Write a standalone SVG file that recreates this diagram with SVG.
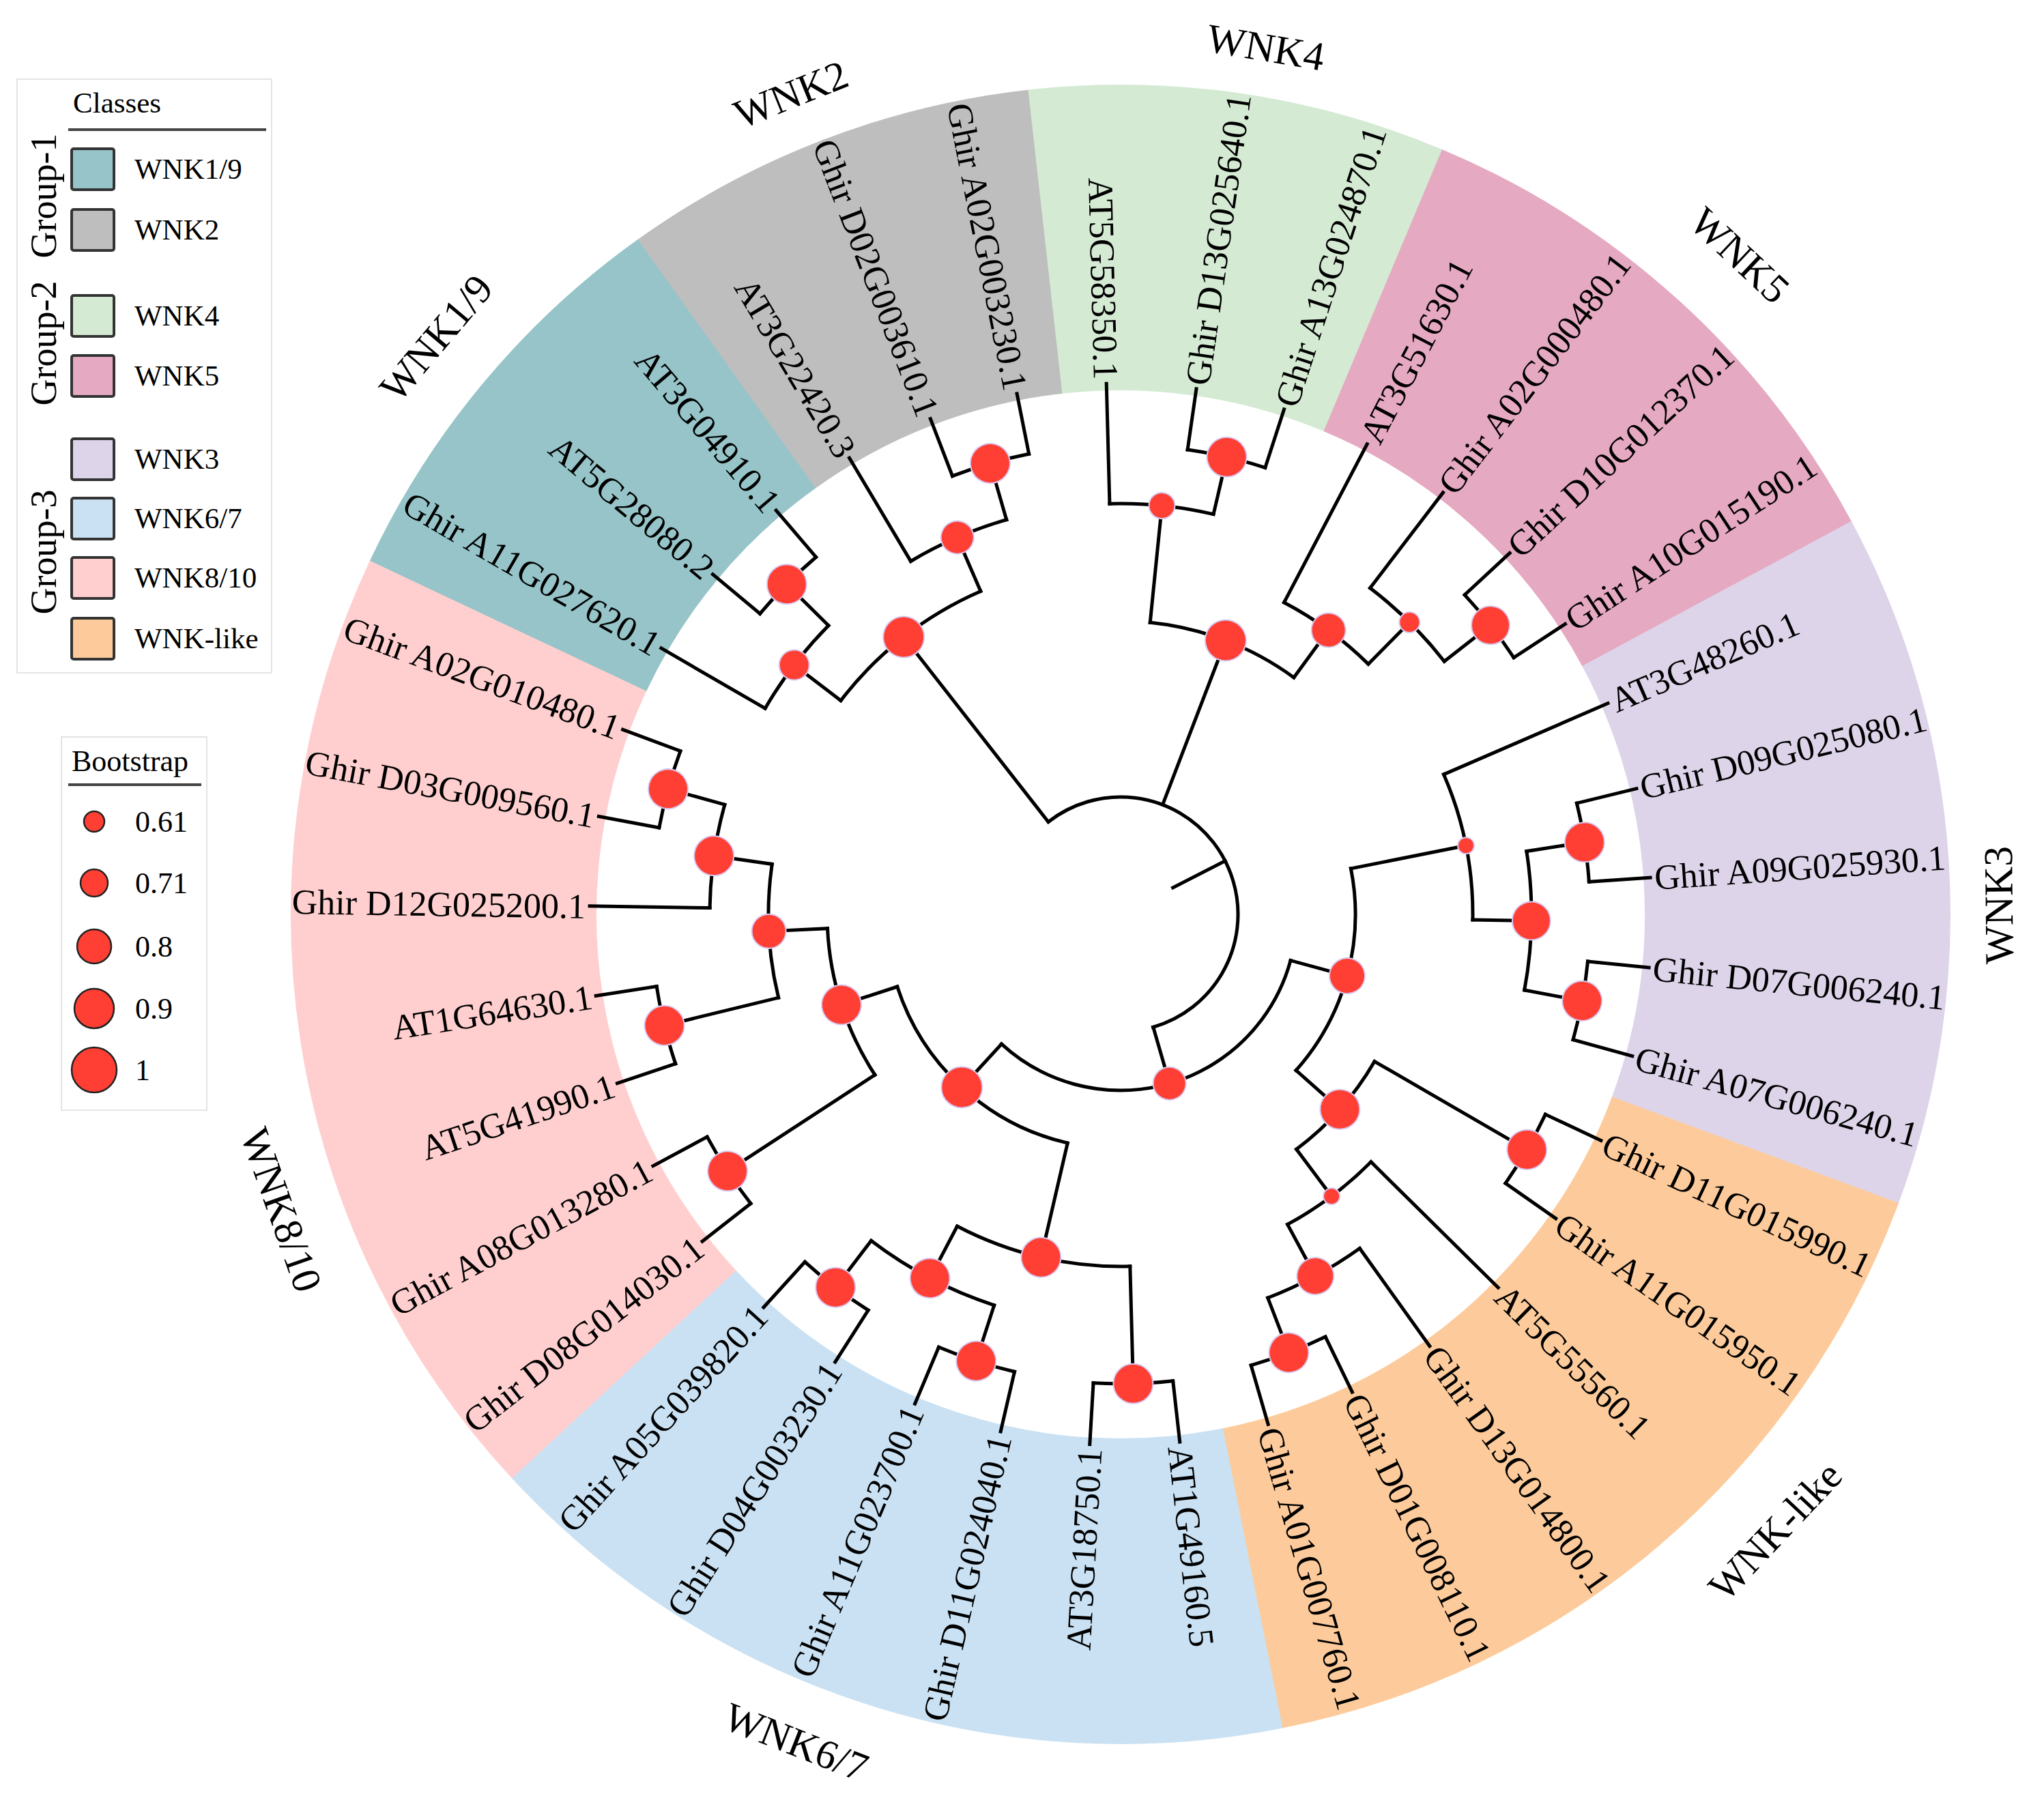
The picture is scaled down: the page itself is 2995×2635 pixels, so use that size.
<svg xmlns="http://www.w3.org/2000/svg" width="2995" height="2635" viewBox="0 0 2995 2635">
<style>
.br{stroke:#000;stroke-width:5;fill:none;stroke-linecap:square}
.nd{fill:#FF3F33;stroke:#d6c9f2;stroke-width:2}
.lf{font-family:"Liberation Serif","Times New Roman",serif;font-size:52px;fill:#000}
.le{text-anchor:end}
.cl{font-family:"Liberation Serif","Times New Roman",serif;font-size:60px;text-anchor:middle;fill:#000}
.lg{font-family:"Liberation Serif","Times New Roman",serif;font-size:43px;fill:#000}
.sec{fill:none;stroke-width:448}
.sw{stroke:#333;stroke-width:4}
.bs{fill:#FF3F33;stroke:#222;stroke-width:2.5}
</style>
<rect width="2995" height="2635" fill="#fff"/>
<g id="sectors">
<circle class="sec" cx="1642" cy="1340" r="992" stroke="#FFCFCF" stroke-dasharray="1180.2 99999" transform="rotate(137.115 1642 1340)"/>
<circle class="sec" cx="1642" cy="1340" r="992" stroke="#96C4C8" stroke-dasharray="506.4 99999" transform="rotate(205.224 1642 1340)"/>
<circle class="sec" cx="1642" cy="1340" r="992" stroke="#BEBEBE" stroke-dasharray="506.4 99999" transform="rotate(234.413 1642 1340)"/>
<circle class="sec" cx="1642" cy="1340" r="992" stroke="#D4EAD3" stroke-dasharray="506.4 99999" transform="rotate(263.602 1642 1340)"/>
<circle class="sec" cx="1642" cy="1340" r="992" stroke="#E5A9C1" stroke-dasharray="674.8 99999" transform="rotate(292.791 1642 1340)"/>
<circle class="sec" cx="1642" cy="1340" r="992" stroke="#DDD4EA" stroke-dasharray="843.3 99999" transform="rotate(331.71 1642 1340)"/>
<circle class="sec" cx="1642" cy="1340" r="992" stroke="#FDCB9B" stroke-dasharray="1011.7 99999" transform="rotate(20.359 1642 1340)"/>
<circle class="sec" cx="1642" cy="1340" r="992" stroke="#C9E1F3" stroke-dasharray="1011.7 99999" transform="rotate(78.737 1642 1340)"/>
</g>
<g id="connectors">
<circle class="br" cx="1642" cy="1340" r="172" stroke-dasharray="606.07 99999" transform="rotate(231.98 1642 1340)"/>
<circle class="br" cx="1642" cy="1340" r="258" stroke-dasharray="528.49 99999" transform="rotate(15.19 1642 1340)"/>
<circle class="br" cx="1642" cy="1340" r="344" stroke-dasharray="317.61 99999" transform="rotate(348.74 1642 1340)"/>
<circle class="br" cx="1642" cy="1340" r="344" stroke-dasharray="354.17 99999" transform="rotate(103.06 1642 1340)"/>
<circle class="br" cx="1642" cy="1340" r="430" stroke-dasharray="228.19 99999" transform="rotate(275.77 1642 1340)"/>
<circle class="br" cx="1642" cy="1340" r="430" stroke-dasharray="173.44 99999" transform="rotate(30.085 1642 1340)"/>
<circle class="br" cx="1642" cy="1340" r="430" stroke-dasharray="228.19 99999" transform="rotate(146.845 1642 1340)"/>
<circle class="br" cx="1642" cy="1340" r="516" stroke-dasharray="262.88 99999" transform="rotate(217.39 1642 1340)"/>
<circle class="br" cx="1642" cy="1340" r="516" stroke-dasharray="153.37 99999" transform="rotate(297.66 1642 1340)"/>
<circle class="br" cx="1642" cy="1340" r="516" stroke-dasharray="218.98 99999" transform="rotate(336.58 1642 1340)"/>
<circle class="br" cx="1642" cy="1340" r="516" stroke-dasharray="153.37 99999" transform="rotate(44.68 1642 1340)"/>
<circle class="br" cx="1642" cy="1340" r="516" stroke-dasharray="262.88 99999" transform="rotate(88.465 1642 1340)"/>
<circle class="br" cx="1642" cy="1340" r="516" stroke-dasharray="197.18 99999" transform="rotate(166.305 1642 1340)"/>
<circle class="br" cx="1642" cy="1340" r="602" stroke-dasharray="153.35 99999" transform="rotate(239.28 1642 1340)"/>
<circle class="br" cx="1642" cy="1340" r="602" stroke-dasharray="153.35 99999" transform="rotate(210.09 1642 1340)"/>
<circle class="br" cx="1642" cy="1340" r="602" stroke-dasharray="153.35 99999" transform="rotate(268.47 1642 1340)"/>
<circle class="br" cx="1642" cy="1340" r="602" stroke-dasharray="153.35 99999" transform="rotate(307.39 1642 1340)"/>
<circle class="br" cx="1642" cy="1340" r="602" stroke-dasharray="204.46 99999" transform="rotate(351.165 1642 1340)"/>
<circle class="br" cx="1642" cy="1340" r="602" stroke-dasharray="153.35 99999" transform="rotate(54.41 1642 1340)"/>
<circle class="br" cx="1642" cy="1340" r="602" stroke-dasharray="204.46 99999" transform="rotate(107.925 1642 1340)"/>
<circle class="br" cx="1642" cy="1340" r="602" stroke-dasharray="153.35 99999" transform="rotate(180.9 1642 1340)"/>
<circle class="br" cx="1642" cy="1340" r="688" stroke-dasharray="116.83 99999" transform="rotate(249.01 1642 1340)"/>
<circle class="br" cx="1642" cy="1340" r="688" stroke-dasharray="116.83 99999" transform="rotate(219.82 1642 1340)"/>
<circle class="br" cx="1642" cy="1340" r="688" stroke-dasharray="116.83 99999" transform="rotate(278.2 1642 1340)"/>
<circle class="br" cx="1642" cy="1340" r="688" stroke-dasharray="116.83 99999" transform="rotate(317.12 1642 1340)"/>
<circle class="br" cx="1642" cy="1340" r="688" stroke-dasharray="116.83 99999" transform="rotate(346.3 1642 1340)"/>
<circle class="br" cx="1642" cy="1340" r="688" stroke-dasharray="116.83 99999" transform="rotate(5.76 1642 1340)"/>
<circle class="br" cx="1642" cy="1340" r="688" stroke-dasharray="116.83 99999" transform="rotate(25.22 1642 1340)"/>
<circle class="br" cx="1642" cy="1340" r="688" stroke-dasharray="116.83 99999" transform="rotate(64.14 1642 1340)"/>
<circle class="br" cx="1642" cy="1340" r="688" stroke-dasharray="116.83 99999" transform="rotate(83.6 1642 1340)"/>
<circle class="br" cx="1642" cy="1340" r="688" stroke-dasharray="116.83 99999" transform="rotate(103.06 1642 1340)"/>
<circle class="br" cx="1642" cy="1340" r="688" stroke-dasharray="116.83 99999" transform="rotate(122.52 1642 1340)"/>
<circle class="br" cx="1642" cy="1340" r="688" stroke-dasharray="116.83 99999" transform="rotate(141.98 1642 1340)"/>
<circle class="br" cx="1642" cy="1340" r="688" stroke-dasharray="116.83 99999" transform="rotate(161.44 1642 1340)"/>
<circle class="br" cx="1642" cy="1340" r="688" stroke-dasharray="116.83 99999" transform="rotate(190.63 1642 1340)"/>
<line class="br" x1="1728" y1="1340" x2="1814" y2="1340" transform="rotate(332.925 1642 1340)"/>
<line class="br" x1="1814" y1="1340" x2="2158" y2="1340" transform="rotate(231.98 1642 1340)"/>
<line class="br" x1="1814" y1="1340" x2="2072" y2="1340" transform="rotate(290.97 1642 1340)"/>
<line class="br" x1="1814" y1="1340" x2="1900" y2="1340" transform="rotate(73.87 1642 1340)"/>
<line class="br" x1="1900" y1="1340" x2="1986" y2="1340" transform="rotate(15.19 1642 1340)"/>
<line class="br" x1="1900" y1="1340" x2="1986" y2="1340" transform="rotate(132.555 1642 1340)"/>
<line class="br" x1="1986" y1="1340" x2="2158" y2="1340" transform="rotate(348.74 1642 1340)"/>
<line class="br" x1="1986" y1="1340" x2="2072" y2="1340" transform="rotate(41.64 1642 1340)"/>
<line class="br" x1="2158" y1="1340" x2="2420" y2="1340" transform="rotate(336.58 1642 1340)"/>
<line class="br" x1="2158" y1="1340" x2="2244" y2="1340" transform="rotate(0.895 1642 1340)"/>
<line class="br" x1="2244" y1="1340" x2="2330" y2="1340" transform="rotate(351.165 1642 1340)"/>
<line class="br" x1="2244" y1="1340" x2="2330" y2="1340" transform="rotate(10.625 1642 1340)"/>
<line class="br" x1="2330" y1="1340" x2="2420" y2="1340" transform="rotate(346.3 1642 1340)"/>
<line class="br" x1="2330" y1="1340" x2="2420" y2="1340" transform="rotate(356.03 1642 1340)"/>
<line class="br" x1="2330" y1="1340" x2="2420" y2="1340" transform="rotate(5.76 1642 1340)"/>
<line class="br" x1="2330" y1="1340" x2="2420" y2="1340" transform="rotate(15.49 1642 1340)"/>
<line class="br" x1="2072" y1="1340" x2="2330" y2="1340" transform="rotate(30.085 1642 1340)"/>
<line class="br" x1="2072" y1="1340" x2="2158" y2="1340" transform="rotate(53.195 1642 1340)"/>
<line class="br" x1="2330" y1="1340" x2="2420" y2="1340" transform="rotate(25.22 1642 1340)"/>
<line class="br" x1="2330" y1="1340" x2="2420" y2="1340" transform="rotate(34.95 1642 1340)"/>
<line class="br" x1="2158" y1="1340" x2="2420" y2="1340" transform="rotate(44.68 1642 1340)"/>
<line class="br" x1="2158" y1="1340" x2="2244" y2="1340" transform="rotate(61.71 1642 1340)"/>
<line class="br" x1="2244" y1="1340" x2="2420" y2="1340" transform="rotate(54.41 1642 1340)"/>
<line class="br" x1="2244" y1="1340" x2="2330" y2="1340" transform="rotate(69.005 1642 1340)"/>
<line class="br" x1="2330" y1="1340" x2="2420" y2="1340" transform="rotate(64.14 1642 1340)"/>
<line class="br" x1="2330" y1="1340" x2="2420" y2="1340" transform="rotate(73.87 1642 1340)"/>
<line class="br" x1="1986" y1="1340" x2="2158" y2="1340" transform="rotate(103.06 1642 1340)"/>
<line class="br" x1="1986" y1="1340" x2="2072" y2="1340" transform="rotate(162.05 1642 1340)"/>
<line class="br" x1="2158" y1="1340" x2="2330" y2="1340" transform="rotate(88.465 1642 1340)"/>
<line class="br" x1="2158" y1="1340" x2="2244" y2="1340" transform="rotate(117.655 1642 1340)"/>
<line class="br" x1="2330" y1="1340" x2="2420" y2="1340" transform="rotate(83.6 1642 1340)"/>
<line class="br" x1="2330" y1="1340" x2="2420" y2="1340" transform="rotate(93.33 1642 1340)"/>
<line class="br" x1="2244" y1="1340" x2="2330" y2="1340" transform="rotate(107.925 1642 1340)"/>
<line class="br" x1="2244" y1="1340" x2="2330" y2="1340" transform="rotate(127.385 1642 1340)"/>
<line class="br" x1="2330" y1="1340" x2="2420" y2="1340" transform="rotate(103.06 1642 1340)"/>
<line class="br" x1="2330" y1="1340" x2="2420" y2="1340" transform="rotate(112.79 1642 1340)"/>
<line class="br" x1="2330" y1="1340" x2="2420" y2="1340" transform="rotate(122.52 1642 1340)"/>
<line class="br" x1="2330" y1="1340" x2="2420" y2="1340" transform="rotate(132.25 1642 1340)"/>
<line class="br" x1="2072" y1="1340" x2="2330" y2="1340" transform="rotate(146.845 1642 1340)"/>
<line class="br" x1="2072" y1="1340" x2="2158" y2="1340" transform="rotate(177.25 1642 1340)"/>
<line class="br" x1="2330" y1="1340" x2="2420" y2="1340" transform="rotate(141.98 1642 1340)"/>
<line class="br" x1="2330" y1="1340" x2="2420" y2="1340" transform="rotate(151.71 1642 1340)"/>
<line class="br" x1="2158" y1="1340" x2="2330" y2="1340" transform="rotate(166.305 1642 1340)"/>
<line class="br" x1="2158" y1="1340" x2="2244" y2="1340" transform="rotate(188.2 1642 1340)"/>
<line class="br" x1="2330" y1="1340" x2="2420" y2="1340" transform="rotate(161.44 1642 1340)"/>
<line class="br" x1="2330" y1="1340" x2="2420" y2="1340" transform="rotate(171.17 1642 1340)"/>
<line class="br" x1="2244" y1="1340" x2="2420" y2="1340" transform="rotate(180.9 1642 1340)"/>
<line class="br" x1="2244" y1="1340" x2="2330" y2="1340" transform="rotate(195.495 1642 1340)"/>
<line class="br" x1="2330" y1="1340" x2="2420" y2="1340" transform="rotate(190.63 1642 1340)"/>
<line class="br" x1="2330" y1="1340" x2="2420" y2="1340" transform="rotate(200.36 1642 1340)"/>
<line class="br" x1="2158" y1="1340" x2="2244" y2="1340" transform="rotate(217.39 1642 1340)"/>
<line class="br" x1="2158" y1="1340" x2="2244" y2="1340" transform="rotate(246.58 1642 1340)"/>
<line class="br" x1="2244" y1="1340" x2="2420" y2="1340" transform="rotate(210.09 1642 1340)"/>
<line class="br" x1="2244" y1="1340" x2="2330" y2="1340" transform="rotate(224.685 1642 1340)"/>
<line class="br" x1="2330" y1="1340" x2="2420" y2="1340" transform="rotate(219.82 1642 1340)"/>
<line class="br" x1="2330" y1="1340" x2="2420" y2="1340" transform="rotate(229.55 1642 1340)"/>
<line class="br" x1="2244" y1="1340" x2="2420" y2="1340" transform="rotate(239.28 1642 1340)"/>
<line class="br" x1="2244" y1="1340" x2="2330" y2="1340" transform="rotate(253.875 1642 1340)"/>
<line class="br" x1="2330" y1="1340" x2="2420" y2="1340" transform="rotate(249.01 1642 1340)"/>
<line class="br" x1="2330" y1="1340" x2="2420" y2="1340" transform="rotate(258.74 1642 1340)"/>
<line class="br" x1="2072" y1="1340" x2="2244" y2="1340" transform="rotate(275.77 1642 1340)"/>
<line class="br" x1="2072" y1="1340" x2="2158" y2="1340" transform="rotate(306.175 1642 1340)"/>
<line class="br" x1="2244" y1="1340" x2="2420" y2="1340" transform="rotate(268.47 1642 1340)"/>
<line class="br" x1="2244" y1="1340" x2="2330" y2="1340" transform="rotate(283.065 1642 1340)"/>
<line class="br" x1="2330" y1="1340" x2="2420" y2="1340" transform="rotate(278.2 1642 1340)"/>
<line class="br" x1="2330" y1="1340" x2="2420" y2="1340" transform="rotate(287.93 1642 1340)"/>
<line class="br" x1="2158" y1="1340" x2="2420" y2="1340" transform="rotate(297.66 1642 1340)"/>
<line class="br" x1="2158" y1="1340" x2="2244" y2="1340" transform="rotate(314.69 1642 1340)"/>
<line class="br" x1="2244" y1="1340" x2="2420" y2="1340" transform="rotate(307.39 1642 1340)"/>
<line class="br" x1="2244" y1="1340" x2="2330" y2="1340" transform="rotate(321.985 1642 1340)"/>
<line class="br" x1="2330" y1="1340" x2="2420" y2="1340" transform="rotate(317.12 1642 1340)"/>
<line class="br" x1="2330" y1="1340" x2="2420" y2="1340" transform="rotate(326.85 1642 1340)"/>
</g>
<g id="internal-nodes">
<g id="n1"><circle class="nd" cx="2330" cy="1340" r="29" transform="rotate(253.875 1642 1340)"/></g>
<g id="n2"><circle class="nd" cx="2244" cy="1340" r="24" transform="rotate(246.58 1642 1340)"/></g>
<g id="n3"><circle class="nd" cx="2330" cy="1340" r="29" transform="rotate(224.685 1642 1340)"/></g>
<g id="n4"><circle class="nd" cx="2244" cy="1340" r="22" transform="rotate(217.39 1642 1340)"/></g>
<g id="n5"><circle class="nd" cx="2158" cy="1340" r="30" transform="rotate(231.98 1642 1340)"/></g>
<g id="n6"><circle class="nd" cx="2330" cy="1340" r="29" transform="rotate(283.065 1642 1340)"/></g>
<g id="n7"><circle class="nd" cx="2244" cy="1340" r="19" transform="rotate(275.77 1642 1340)"/></g>
<g id="n8"><circle class="nd" cx="2072" cy="1340" r="30" transform="rotate(290.97 1642 1340)"/></g>
<g id="n9"><circle class="nd" cx="2158" cy="1340" r="25" transform="rotate(306.175 1642 1340)"/></g>
<g id="n10"><circle class="nd" cx="2244" cy="1340" r="15" transform="rotate(314.69 1642 1340)"/></g>
<g id="n11"><circle class="nd" cx="2330" cy="1340" r="28" transform="rotate(321.985 1642 1340)"/></g>
<g id="n12"><circle class="nd" cx="2158" cy="1340" r="12" transform="rotate(348.74 1642 1340)"/></g>
<g id="n13"><circle class="nd" cx="2244" cy="1340" r="28" transform="rotate(0.895 1642 1340)"/></g>
<g id="n14"><circle class="nd" cx="2330" cy="1340" r="29" transform="rotate(351.165 1642 1340)"/></g>
<g id="n15"><circle class="nd" cx="2330" cy="1340" r="29" transform="rotate(10.625 1642 1340)"/></g>
<g id="n16"><circle class="nd" cx="1986" cy="1340" r="26" transform="rotate(15.19 1642 1340)"/></g>
<g id="n17"><circle class="nd" cx="2072" cy="1340" r="29" transform="rotate(41.64 1642 1340)"/></g>
<g id="n18"><circle class="nd" cx="2330" cy="1340" r="29" transform="rotate(30.085 1642 1340)"/></g>
<g id="n19"><circle class="nd" cx="2158" cy="1340" r="12" transform="rotate(53.195 1642 1340)"/></g>
<g id="n20"><circle class="nd" cx="2244" cy="1340" r="27" transform="rotate(61.71 1642 1340)"/></g>
<g id="n21"><circle class="nd" cx="2330" cy="1340" r="29" transform="rotate(69.005 1642 1340)"/></g>
<g id="n22"><circle class="nd" cx="1900" cy="1340" r="24" transform="rotate(73.87 1642 1340)"/></g>
<g id="n23"><circle class="nd" cx="1986" cy="1340" r="30" transform="rotate(132.555 1642 1340)"/></g>
<g id="n24"><circle class="nd" cx="2158" cy="1340" r="29" transform="rotate(103.06 1642 1340)"/></g>
<g id="n25"><circle class="nd" cx="2072" cy="1340" r="29" transform="rotate(162.05 1642 1340)"/></g>
<g id="n26"><circle class="nd" cx="2330" cy="1340" r="29" transform="rotate(88.465 1642 1340)"/></g>
<g id="n27"><circle class="nd" cx="2244" cy="1340" r="29" transform="rotate(117.655 1642 1340)"/></g>
<g id="n28"><circle class="nd" cx="2330" cy="1340" r="29" transform="rotate(127.385 1642 1340)"/></g>
<g id="n29"><circle class="nd" cx="2330" cy="1340" r="29" transform="rotate(107.925 1642 1340)"/></g>
<g id="n30"><circle class="nd" cx="2330" cy="1340" r="29" transform="rotate(146.845 1642 1340)"/></g>
<g id="n31"><circle class="nd" cx="2158" cy="1340" r="25" transform="rotate(177.25 1642 1340)"/></g>
<g id="n32"><circle class="nd" cx="2244" cy="1340" r="29" transform="rotate(188.2 1642 1340)"/></g>
<g id="n33"><circle class="nd" cx="2330" cy="1340" r="29" transform="rotate(195.495 1642 1340)"/></g>
<g id="n34"><circle class="nd" cx="2330" cy="1340" r="29" transform="rotate(166.305 1642 1340)"/></g>
</g>
<g id="leaves">
<g id="leaf0"><text class="lf le" x="2426" y="1340" dy=".35em" transform="rotate(180.9 1642 1340) rotate(180 2426 1340)">Ghir D12G025200.1</text></g>
<g id="leaf1"><text class="lf le" x="2426" y="1340" dy=".35em" transform="rotate(190.63 1642 1340) rotate(180 2426 1340)">Ghir D03G009560.1</text></g>
<g id="leaf2"><text class="lf le" x="2426" y="1340" dy=".35em" transform="rotate(200.36 1642 1340) rotate(180 2426 1340)">Ghir A02G010480.1</text></g>
<g id="leaf3"><text class="lf le" x="2426" y="1340" dy=".35em" transform="rotate(210.09 1642 1340) rotate(180 2426 1340)">Ghir A11G027620.1</text></g>
<g id="leaf4"><text class="lf le" x="2426" y="1340" dy=".35em" transform="rotate(219.82 1642 1340) rotate(180 2426 1340)">AT5G28080.2</text></g>
<g id="leaf5"><text class="lf le" x="2426" y="1340" dy=".35em" transform="rotate(229.55 1642 1340) rotate(180 2426 1340)">AT3G04910.1</text></g>
<g id="leaf6"><text class="lf le" x="2426" y="1340" dy=".35em" transform="rotate(239.28 1642 1340) rotate(180 2426 1340)">AT3G22420.3</text></g>
<g id="leaf7"><text class="lf le" x="2426" y="1340" dy=".35em" transform="rotate(249.01 1642 1340) rotate(180 2426 1340)">Ghir D02G003610.1</text></g>
<g id="leaf8"><text class="lf le" x="2426" y="1340" dy=".35em" transform="rotate(258.74 1642 1340) rotate(180 2426 1340)">Ghir A02G003230.1</text></g>
<g id="leaf9"><text class="lf le" x="2426" y="1340" dy=".35em" transform="rotate(268.47 1642 1340) rotate(180 2426 1340)">AT5G58350.1</text></g>
<g id="leaf10"><text class="lf" x="2426" y="1340" dy=".35em" transform="rotate(278.2 1642 1340)">Ghir D13G025640.1</text></g>
<g id="leaf11"><text class="lf" x="2426" y="1340" dy=".35em" transform="rotate(287.93 1642 1340)">Ghir A13G024870.1</text></g>
<g id="leaf12"><text class="lf" x="2426" y="1340" dy=".35em" transform="rotate(297.66 1642 1340)">AT3G51630.1</text></g>
<g id="leaf13"><text class="lf" x="2426" y="1340" dy=".35em" transform="rotate(307.39 1642 1340)">Ghir A02G000480.1</text></g>
<g id="leaf14"><text class="lf" x="2426" y="1340" dy=".35em" transform="rotate(317.12 1642 1340)">Ghir D10G012370.1</text></g>
<g id="leaf15"><text class="lf" x="2426" y="1340" dy=".35em" transform="rotate(326.85 1642 1340)">Ghir A10G015190.1</text></g>
<g id="leaf16"><text class="lf" x="2426" y="1340" dy=".35em" transform="rotate(336.58 1642 1340)">AT3G48260.1</text></g>
<g id="leaf17"><text class="lf" x="2426" y="1340" dy=".35em" transform="rotate(346.3 1642 1340)">Ghir D09G025080.1</text></g>
<g id="leaf18"><text class="lf" x="2426" y="1340" dy=".35em" transform="rotate(356.03 1642 1340)">Ghir A09G025930.1</text></g>
<g id="leaf19"><text class="lf" x="2426" y="1340" dy=".35em" transform="rotate(5.76 1642 1340)">Ghir D07G006240.1</text></g>
<g id="leaf20"><text class="lf" x="2426" y="1340" dy=".35em" transform="rotate(15.49 1642 1340)">Ghir A07G006240.1</text></g>
<g id="leaf21"><text class="lf" x="2426" y="1340" dy=".35em" transform="rotate(25.22 1642 1340)">Ghir D11G015990.1</text></g>
<g id="leaf22"><text class="lf" x="2426" y="1340" dy=".35em" transform="rotate(34.95 1642 1340)">Ghir A11G015950.1</text></g>
<g id="leaf23"><text class="lf" x="2426" y="1340" dy=".35em" transform="rotate(44.68 1642 1340)">AT5G55560.1</text></g>
<g id="leaf24"><text class="lf" x="2426" y="1340" dy=".35em" transform="rotate(54.41 1642 1340)">Ghir D13G014800.1</text></g>
<g id="leaf25"><text class="lf" x="2426" y="1340" dy=".35em" transform="rotate(64.14 1642 1340)">Ghir D01G008110.1</text></g>
<g id="leaf26"><text class="lf" x="2426" y="1340" dy=".35em" transform="rotate(73.87 1642 1340)">Ghir A01G007760.1</text></g>
<g id="leaf27"><text class="lf" x="2426" y="1340" dy=".35em" transform="rotate(83.6 1642 1340)">AT1G49160.5</text></g>
<g id="leaf28"><text class="lf le" x="2426" y="1340" dy=".35em" transform="rotate(93.33 1642 1340) rotate(180 2426 1340)">AT3G18750.1</text></g>
<g id="leaf29"><text class="lf le" x="2426" y="1340" dy=".35em" transform="rotate(103.06 1642 1340) rotate(180 2426 1340)">Ghir D11G024040.1</text></g>
<g id="leaf30"><text class="lf le" x="2426" y="1340" dy=".35em" transform="rotate(112.79 1642 1340) rotate(180 2426 1340)">Ghir A11G023700.1</text></g>
<g id="leaf31"><text class="lf le" x="2426" y="1340" dy=".35em" transform="rotate(122.52 1642 1340) rotate(180 2426 1340)">Ghir D04G003230.1</text></g>
<g id="leaf32"><text class="lf le" x="2426" y="1340" dy=".35em" transform="rotate(132.25 1642 1340) rotate(180 2426 1340)">Ghir A05G039820.1</text></g>
<g id="leaf33"><text class="lf le" x="2426" y="1340" dy=".35em" transform="rotate(141.98 1642 1340) rotate(180 2426 1340)">Ghir D08G014030.1</text></g>
<g id="leaf34"><text class="lf le" x="2426" y="1340" dy=".35em" transform="rotate(151.71 1642 1340) rotate(180 2426 1340)">Ghir A08G013280.1</text></g>
<g id="leaf35"><text class="lf le" x="2426" y="1340" dy=".35em" transform="rotate(161.44 1642 1340) rotate(180 2426 1340)">AT5G41990.1</text></g>
<g id="leaf36"><text class="lf le" x="2426" y="1340" dy=".35em" transform="rotate(171.17 1642 1340) rotate(180 2426 1340)">AT1G64630.1</text></g>
</g>
<g id="clade-labels">
<g id="cl-wnk19"><text class="cl" dy=".35em" transform="translate(1642 1340) rotate(220.1) translate(1312 0) rotate(90)">WNK1/9</text></g>
<g id="cl-wnk2"><text class="cl" dy=".35em" transform="translate(1642 1340) rotate(248.1) translate(1296 0) rotate(90)">WNK2</text></g>
<g id="cl-wnk4"><text class="cl" dy=".35em" transform="translate(1642 1340) rotate(279.5) translate(1289 0) rotate(90)">WNK4</text></g>
<g id="cl-wnk5"><text class="cl" dy=".35em" transform="translate(1642 1340) rotate(313.2) translate(1326 0) rotate(90)">WNK5</text></g>
<g id="cl-wnk3"><text class="cl" dy=".35em" transform="translate(1642 1340) rotate(359.4) translate(1286 0) rotate(-90)">WNK3</text></g>
<g id="cl-wnklike"><text class="cl" dy=".35em" transform="translate(1642 1340) rotate(43.3) translate(1317 0) rotate(-90)">WNK-like</text></g>
<g id="cl-wnk67"><text class="cl" dy=".35em" transform="translate(1642 1340) rotate(111.4) translate(1302 0) rotate(-90)">WNK6/7</text></g>
<g id="cl-wnk810"><text class="cl" dy=".35em" transform="translate(1642 1340) rotate(160.6) translate(1303 0) rotate(-90)">WNK8/10</text></g>
</g>
<g id="legend-classes">
<rect x="25" y="116" width="373" height="870" fill="#fff" stroke="#e4e4e4" stroke-width="2"/>
<text class="lg" x="107" y="165">Classes</text>
<line x1="100" y1="190" x2="390" y2="190" stroke="#444" stroke-width="4"/>
<text class="lg" style="font-size:54px" text-anchor="middle" transform="translate(82 287) rotate(-90)">Group-1</text>
<text class="lg" style="font-size:54px" text-anchor="middle" transform="translate(82 503) rotate(-90)">Group-2</text>
<text class="lg" style="font-size:54px" text-anchor="middle" transform="translate(82 809) rotate(-90)">Group-3</text>
<rect class="sw" x="105" y="218" width="62" height="60" rx="3" fill="#96C4C8"/>
<rect class="sw" x="105" y="307" width="62" height="60" rx="3" fill="#BEBEBE"/>
<rect class="sw" x="105" y="433" width="62" height="60" rx="3" fill="#D4EAD3"/>
<rect class="sw" x="105" y="521" width="62" height="60" rx="3" fill="#E5A9C1"/>
<rect class="sw" x="105" y="643" width="62" height="60" rx="3" fill="#DDD4EA"/>
<rect class="sw" x="105" y="730" width="62" height="60" rx="3" fill="#C9E1F3"/>
<rect class="sw" x="105" y="817" width="62" height="60" rx="3" fill="#FFCFCF"/>
<rect class="sw" x="105" y="906" width="62" height="60" rx="3" fill="#FDCB9B"/>
<text class="lg" x="197" y="262">WNK1/9</text>
<text class="lg" x="197" y="351">WNK2</text>
<text class="lg" x="197" y="477">WNK4</text>
<text class="lg" x="197" y="565">WNK5</text>
<text class="lg" x="197" y="687">WNK3</text>
<text class="lg" x="197" y="774">WNK6/7</text>
<text class="lg" x="197" y="861">WNK8/10</text>
<text class="lg" x="197" y="950">WNK-like</text>
</g>
<g id="legend-bootstrap">
<rect x="90" y="1080" width="213" height="547" fill="#fff" stroke="#e4e4e4" stroke-width="2"/>
<text class="lg" style="font-size:44px" x="105" y="1130">Bootstrap</text>
<line x1="100" y1="1150" x2="295" y2="1150" stroke="#444" stroke-width="4"/>
<circle class="bs" cx="138" cy="1204" r="15"/>
<circle class="bs" cx="138" cy="1294" r="20"/>
<circle class="bs" cx="138" cy="1387" r="25"/>
<circle class="bs" cx="138" cy="1478" r="29"/>
<circle class="bs" cx="138" cy="1568" r="33"/>
<text class="lg" style="font-size:44px" x="198" y="1219">0.61</text>
<text class="lg" style="font-size:44px" x="198" y="1309">0.71</text>
<text class="lg" style="font-size:44px" x="198" y="1402">0.8</text>
<text class="lg" style="font-size:44px" x="198" y="1493">0.9</text>
<text class="lg" style="font-size:44px" x="198" y="1583">1</text>
</g>
</svg>
